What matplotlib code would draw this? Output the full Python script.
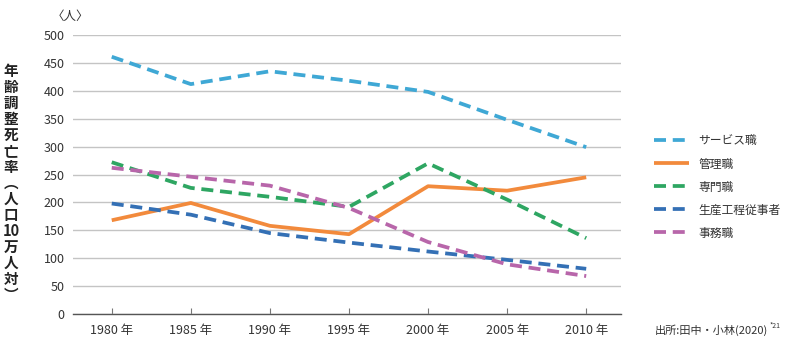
import numpy as np
import matplotlib.pyplot as plt

plt.rcParams['font.family'] = ['Noto Sans CJK JP', 'DejaVu Sans']

years = ['1980 年', '1985 年', '1990 年', '1995 年', '2000 年', '2005 年', '2010 年']
service = [461, 412, 435, 418, 398, 348, 299]
manager = [168, 199, 158, 143, 229, 221, 245]
professional = [272, 226, 210, 192, 270, 205, 136]
production = [198, 178, 145, 128, 112, 97, 81]
clerical = [262, 246, 230, 190, 129, 89, 68]

series = [
    ('サービス職', service, '#3fa8d5', True),
    ('管理職', manager, '#f28a3c', False),
    ('専門職', professional, '#2ea662', True),
    ('生産工程従事者', production, '#3470b5', True),
    ('事務職', clerical, '#b866aa', True),
]

fig = plt.figure(figsize=(7.9, 3.45), dpi=100)
ax = fig.add_axes([73/790, 31/345, 548/790, 279/345])

x = np.arange(len(years))
for name, vals, col, dashed in series:
    if dashed:
        ax.plot(x, vals, color=col, lw=2.7, dashes=(3.2, 1.8), label=name)
    else:
        ax.plot(x, vals, color=col, lw=2.7, label=name, solid_capstyle='butt')

ax.set_ylim(0, 500)
ax.set_xlim(-0.49, 6.44)
ax.set_yticks(range(0, 501, 50))
ax.set_xticks(x)
ax.set_xticklabels(years)
ax.grid(axis='y', color='#c4c4c4', lw=1)
ax.set_axisbelow(True)
for s in ['top', 'right', 'left']:
    ax.spines[s].set_visible(False)
ax.spines['bottom'].set_color('#555555')
ax.spines['bottom'].set_linewidth(1)
ax.tick_params(axis='y', length=0, labelsize=9, labelcolor='#333333', pad=6)
ax.tick_params(axis='x', direction='in', length=4, color='#777777',
               labelsize=9, labelcolor='#333333', pad=7)

fig.text(52/790, 1 - 16/345, '〈人〉', fontsize=9, color='#333333',
         ha='left', va='center')
ylabel = '年\n齢\n調\n整\n死\n亡\n率\n︵\n人\n口\n10\n万\n人\n対\n︶'
fig.text(11/790, 1 - 183/345, ylabel, fontsize=10.5, fontweight='bold',
         color='#222222', ha='center', va='center', linespacing=1.0)

leg = ax.legend(loc='center left', bbox_to_anchor=(1.04, 0.455), frameon=False,
                fontsize=8.5, handlelength=3, handletextpad=0.8,
                labelspacing=0.85)
for t in leg.get_texts():
    t.set_color('#333333')

src = fig.text(655/790, 1 - 330/345, '出所:田中・小林(2020)', fontsize=8,
               color='#333333', ha='left', va='center')
fig.canvas.draw()
bb = src.get_window_extent()
fig.text((bb.x1 + 1)/790, 1 - 326/345, '*21', fontsize=5, color='#333333',
         ha='left', va='center')

fig.savefig('out.png', dpi=100)
